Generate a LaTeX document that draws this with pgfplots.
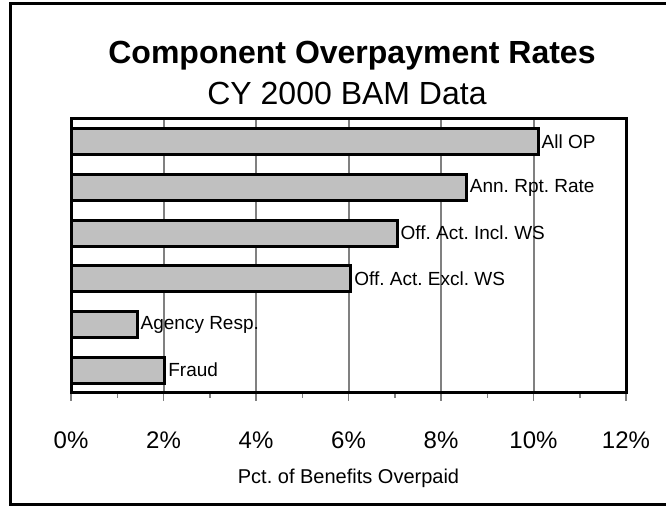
\documentclass[border=0pt]{standalone}
\usepackage{pgfplots}
\pgfplotsset{compat=1.18}
\usepackage{fontspec}
\setmainfont{Liberation Sans}
\frenchspacing
\definecolor{barfill}{HTML}{C0C0C0}
\definecolor{gridgray}{HTML}{808080}
\begin{document}
\begin{tikzpicture}[x=1pt,y=1pt]
\useasboundingbox (0,0) rectangle (666,508);
\draw[line width=3pt] (666,504) -- (10.5,504) -- (10.5,3) -- (666,3);
\node[anchor=base, font=\fontsize{32}{36}\selectfont\bfseries] at (352,444) {Component Overpayment Rates};
\node[anchor=base, font=\fontsize{32}{36}\selectfont] at (347,403) {CY 2000 BAM Data};
\begin{axis}[
  at={(71pt,115pt)}, anchor=south west,
  scale only axis, width=555pt, height=274pt,
  xmin=0, xmax=12, ymin=0.5, ymax=6.5,
  xbar, bar width=26pt,
  xtick={0,2,4,6,8,10,12},
  minor x tick num=1,
  xtick pos=bottom, ytick=\empty,
  tick align=outside,
  major tick length=8pt, minor tick length=5pt,
  every tick/.style={gridgray, line width=1.5pt},
  xmajorgrids,
  major grid style={gridgray, line width=2pt},
  axis line style={black, line width=3pt},
  /pgf/number format/assume math mode=true,
  xticklabel={\pgfmathprintnumber{\tick}\%},
  xticklabel style={font=\fontsize{24}{28}\selectfont, yshift=-27pt},
  xlabel={Pct. of Benefits Overpaid},
  xlabel style={font=\fontsize{20}{24}\selectfont, yshift=-14pt},
  point meta=explicit symbolic,
  nodes near coords,
  nodes near coords style={font=\fontsize{19}{22}\selectfont, anchor=west, inner sep=2pt},
]
\addplot[fill=barfill, draw=black, line width=3pt] table[meta=label, col sep=comma] {
x,y,label
10.1,6,All OP
8.55,5,Ann. Rpt. Rate
7.05,4,Off. Act. Incl. WS
6.05,3,Off. Act. Excl. WS
1.43,2,Agency Resp.
2.03,1,Fraud
};
\end{axis}
\end{tikzpicture}
\end{document}
